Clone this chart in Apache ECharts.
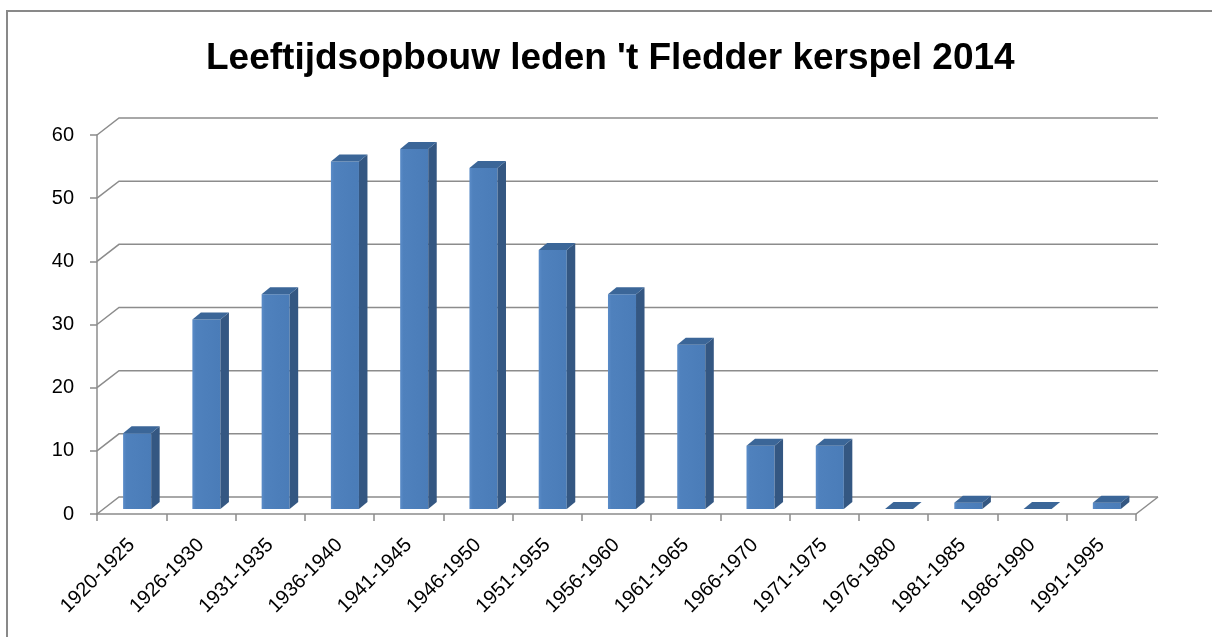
<!DOCTYPE html>
<html>
<head>
<meta charset="utf-8">
<script src="https://cdn.jsdelivr.net/npm/echarts@6/dist/echarts.min.js"></script>
<style>
  html, body { margin: 0; padding: 0; background: #fff; }
  #chart { width: 1212px; height: 637px; }
</style>
</head>
<body>
<div id="chart"></div>
<script>
// leeftijdsgroepen (geboortejaren)
var categories = ['1920-1925', '1926-1930', '1931-1935', '1936-1940', '1941-1945',
  '1946-1950', '1951-1955', '1956-1960', '1961-1965', '1966-1970',
  '1971-1975', '1976-1980', '1981-1985', '1986-1990', '1991-1995'];
// aantal leden per groep
var members = [12, 30, 34, 55, 57, 54, 41, 34, 26, 10, 10, 0, 1, 0, 1];
// waarden op de y-as
var yTicks = [0, 10, 20, 30, 40, 50, 60];

var chart = echarts.init(document.getElementById('chart'));

// diepte van de 3d wand / vloer
var DX = 22, DY = 17;
var gridColor = '#8c8c8c';

function renderWall(params, api) {
  var v = api.value(1);
  var p = api.coord([0, v]);
  var bw = api.size([1, 0])[0];
  var x0 = p[0] - bw / 2;
  var x1 = x0 + bw * categories.length;
  var kids = [{
    type: 'polyline',
    shape: { points: [[x0, p[1]], [x0 + DX, p[1] - DY], [x1 + DX, p[1] - DY]] },
    style: { stroke: gridColor, lineWidth: 1.5, fill: null }
  }];
  if (v === 0) {
    kids.push({
      type: 'line',
      shape: { x1: x1, y1: p[1], x2: x1 + DX, y2: p[1] - DY },
      style: { stroke: gridColor, lineWidth: 1.5 }
    });
  }
  return { type: 'group', children: kids };
}

function renderBar(params, api) {
  var idx = api.value(0);
  var val = api.value(1);
  var base = api.coord([idx, 0]);
  var top = api.coord([idx, val]);
  var bw = api.size([1, 0])[0];
  var w = bw * 0.405;
  var xl = base[0] - w / 2 + 5.5;
  var xr = xl + w;
  var yb = base[1] - 5;
  var yt = top[1] - 5;
  var sd = 8.5, sh = 7;
  var kids = [];
  if (yb - yt > 0.5) {
    kids.push({
      type: 'rect',
      shape: { x: xl, y: yt, width: w, height: yb - yt },
      style: {
        fill: new echarts.graphic.LinearGradient(0, 0, 1, 0, [
          { offset: 0, color: '#5B8CC8' },
          { offset: 0.12, color: '#4F81BD' },
          { offset: 1, color: '#4A7CB8' }
        ])
      }
    });
    kids.push({
      type: 'polygon',
      shape: { points: [[xr, yt], [xr + sd, yt - sh], [xr + sd, yb - sh], [xr, yb]] },
      style: { fill: '#345782' }
    });
  }
  kids.push({
    type: 'polygon',
    shape: { points: [[xl, yt], [xl + sd, yt - sh], [xr + sd, yt - sh], [xr, yt]] },
    style: { fill: '#3B6698' }
  });
  return { type: 'group', children: kids };
}

var option = {
  backgroundColor: '#ffffff',
  animation: false,
  title: {
    text: "Leeftijdsopbouw leden 't Fledder kerspel 2014",
    left: 201,
    top: 35,
    textStyle: {
      fontFamily: 'Liberation Sans',
      fontWeight: 'bold',
      fontSize: 37,
      color: '#000'
    }
  },
  graphic: [{
    type: 'rect',
    shape: { x: 7, y: 11, width: 1300, height: 700 },
    style: { fill: 'none', stroke: '#898989', lineWidth: 2 },
    silent: true
  }],
  grid: { left: 97, right: 76, top: 135, bottom: 123 },
  xAxis: {
    type: 'category',
    data: categories,
    boundaryGap: true,
    axisLine: { lineStyle: { color: gridColor, width: 1.5 } },
    axisTick: { show: true, length: 7, lineStyle: { color: gridColor, width: 1.5 } },
    axisLabel: {
      rotate: 45,
      margin: 28,
      interval: 0,
      fontFamily: 'Liberation Sans',
      fontSize: 20,
      color: '#000'
    },
    splitLine: { show: false }
  },
  yAxis: {
    type: 'value',
    min: 0,
    max: 60,
    interval: 10,
    axisLine: { show: true, lineStyle: { color: gridColor, width: 1.5 } },
    axisTick: { show: true, length: 7, lineStyle: { color: gridColor, width: 1.5 } },
    axisLabel: {
      margin: 23,
      fontFamily: 'Liberation Sans',
      fontSize: 20,
      color: '#000'
    },
    splitLine: { show: false }
  },
  series: [{
    type: 'custom',
    renderItem: renderWall,
    data: yTicks.map(function (v) { return [0, v]; }),
    z: 1,
    silent: true
  }, {
    type: 'custom',
    renderItem: renderBar,
    data: members.map(function (v, i) { return [i, v]; }),
    z: 3
  }]
};

chart.setOption(option);
</script>
</body>
</html>
